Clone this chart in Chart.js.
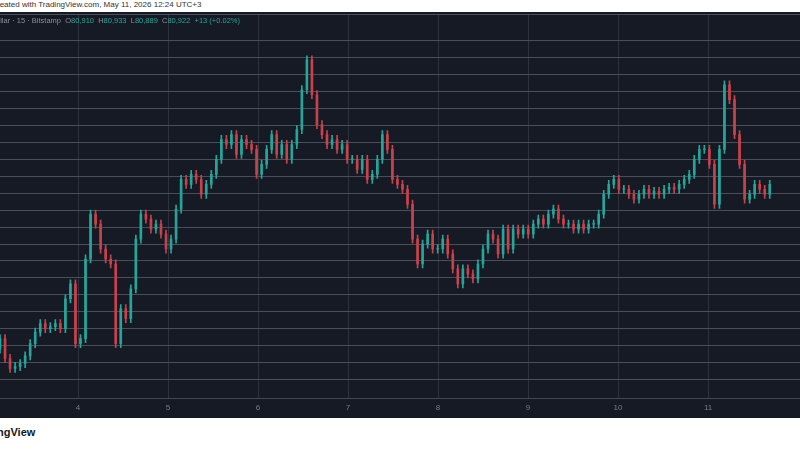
<!DOCTYPE html>
<html>
<head>
<meta charset="utf-8">
<script src="https://cdn.jsdelivr.net/npm/chart.js@4.4.1/dist/chart.umd.min.js"></script>
<style>
  body { margin: 0; width: 800px; height: 450px; background: #fff; position: relative; overflow: hidden; font-family: "Liberation Sans", Arial, sans-serif; }
  #cap { position: absolute; left: -3px; top: 0; font-size: 8px; color: #333; }
  #panel { position: absolute; left: 0; top: 12px; width: 800px; height: 406px; background: #161a25; }
  #legend { position: absolute; left: -4px; top: 16px; font-size: 7.5px; color: #8a8f9a; z-index: 2; }
  #legend b { font-weight: normal; color: #26a69a; }
  #brand { position: absolute; left: -3px; top: 426px; font-size: 11px; font-weight: bold; color: #131722; }
</style>
</head>
<body>
<div id="cap">reated with TradingView.com, May 11, 2026 12:24 UTC+3</div>
<div id="panel"><canvas id="grafico" width="800" height="406"></canvas></div>
<div id="legend">ollar · 15 · Bitstamp &nbsp;O<b>80,910</b> &nbsp;H<b>80,933</b> &nbsp;L<b>80,889</b> &nbsp;C<b>80,922</b> &nbsp;<b>+13 (+0.02%)</b></div>
<div id="brand">ngView</div>
<script>
// Dias no eixo x
const diaInicio = 3.133;
const passoDias = 0.0559;
const diasTicks = [4, 5, 6, 7, 8, 9, 10, 11];

// Fechamentos
const fechamentos = [
  77854, 77560, 77413, 77442, 77486, 77600, 77780, 77950, 78074, 78001,
  78030, 78074, 78000, 78442, 78662, 77780, 77854, 79030, 79691, 79544,
  79177, 79030, 78956, 77780, 78295, 78148, 78589, 79324, 79691, 79618,
  79471, 79544, 79397, 79177, 79324, 79765, 80206, 80132, 80279, 80206,
  79985, 80132, 80279, 80500, 80794, 80720, 80867, 80573, 80794, 80720,
  80647, 80279, 80426, 80647, 80867, 80573, 80720, 80500, 80720, 80941,
  81529, 81970, 81455, 81014, 80867, 80720, 80794, 80647, 80720, 80500,
  80500, 80353, 80500, 80206, 80279, 80500, 80867, 80647, 80206, 80132,
  80059, 79838, 79324, 78956, 79250, 79397, 79177, 79177, 79324, 79103,
  78883, 78662, 78883, 78809, 78736, 78956, 79177, 79397, 79324, 79103,
  79471, 79177, 79471, 79397, 79471, 79397, 79544, 79618, 79544, 79691,
  79765, 79618, 79544, 79544, 79471, 79544, 79471, 79544, 79544, 79691,
  79985, 80132, 80206, 80059, 80059, 79985, 79912, 79985, 80059, 79985,
  80029, 79985, 80059, 80088, 80059, 80132, 80206, 80279, 80500, 80647,
  80647, 80426, 79838, 80647, 81602, 81382, 80867, 80426, 79912, 79985,
  80132, 80059, 79985, 80132
];
const aberturaInicial = 77700;
const pavio = 60;

const corAlta = '#26a69a';
const corBaixa = '#c8424c';

const velas = fechamentos.map((c, i) => {
  const o = i === 0 ? aberturaInicial : fechamentos[i - 1];
  return { x: diaInicio + i * passoDias, o, c, h: Math.max(o, c) + pavio, l: Math.min(o, c) - pavio };
});
const cor = ctx => { const v = velas[ctx.dataIndex]; return v.c >= v.o ? corAlta : corBaixa; };

new Chart(document.getElementById('grafico'), {
  type: 'bar',
  data: {
    datasets: [
      { data: velas.map(v => ({ x: v.x, y: [v.l, v.h] })), backgroundColor: cor, barThickness: 1, grouped: false },
      { data: velas.map(v => ({ x: v.x, y: [v.o, v.c === v.o ? v.o + 8 : v.c] })), backgroundColor: cor, barThickness: 2, grouped: false }
    ]
  },
  options: {
    animation: false,
    responsive: false,
    layout: { padding: { top: 2, left: 0, right: 0, bottom: 0 } },
    plugins: { legend: { display: false }, tooltip: { enabled: false } },
    scales: {
      x: {
        type: 'linear', offset: false, min: diaInicio, max: diaInicio + 800 / 90,
        afterBuildTicks: ax => { ax.ticks = diasTicks.map(v => ({ value: v })); },
        ticks: { color: '#787b86', font: { size: 8 }, padding: 5, maxRotation: 0, callback: v => v },
        grid: { color: '#2e323d', drawTicks: false, offset: false },
        border: { color: '#434651' }
      },
      y: {
        min: 76971, max: 82647,
        ticks: { display: false, stepSize: 250 },
        grid: { color: '#4a4e5a', drawTicks: false },
        border: { display: false }
      }
    }
  }
});
</script>
</body>
</html>
